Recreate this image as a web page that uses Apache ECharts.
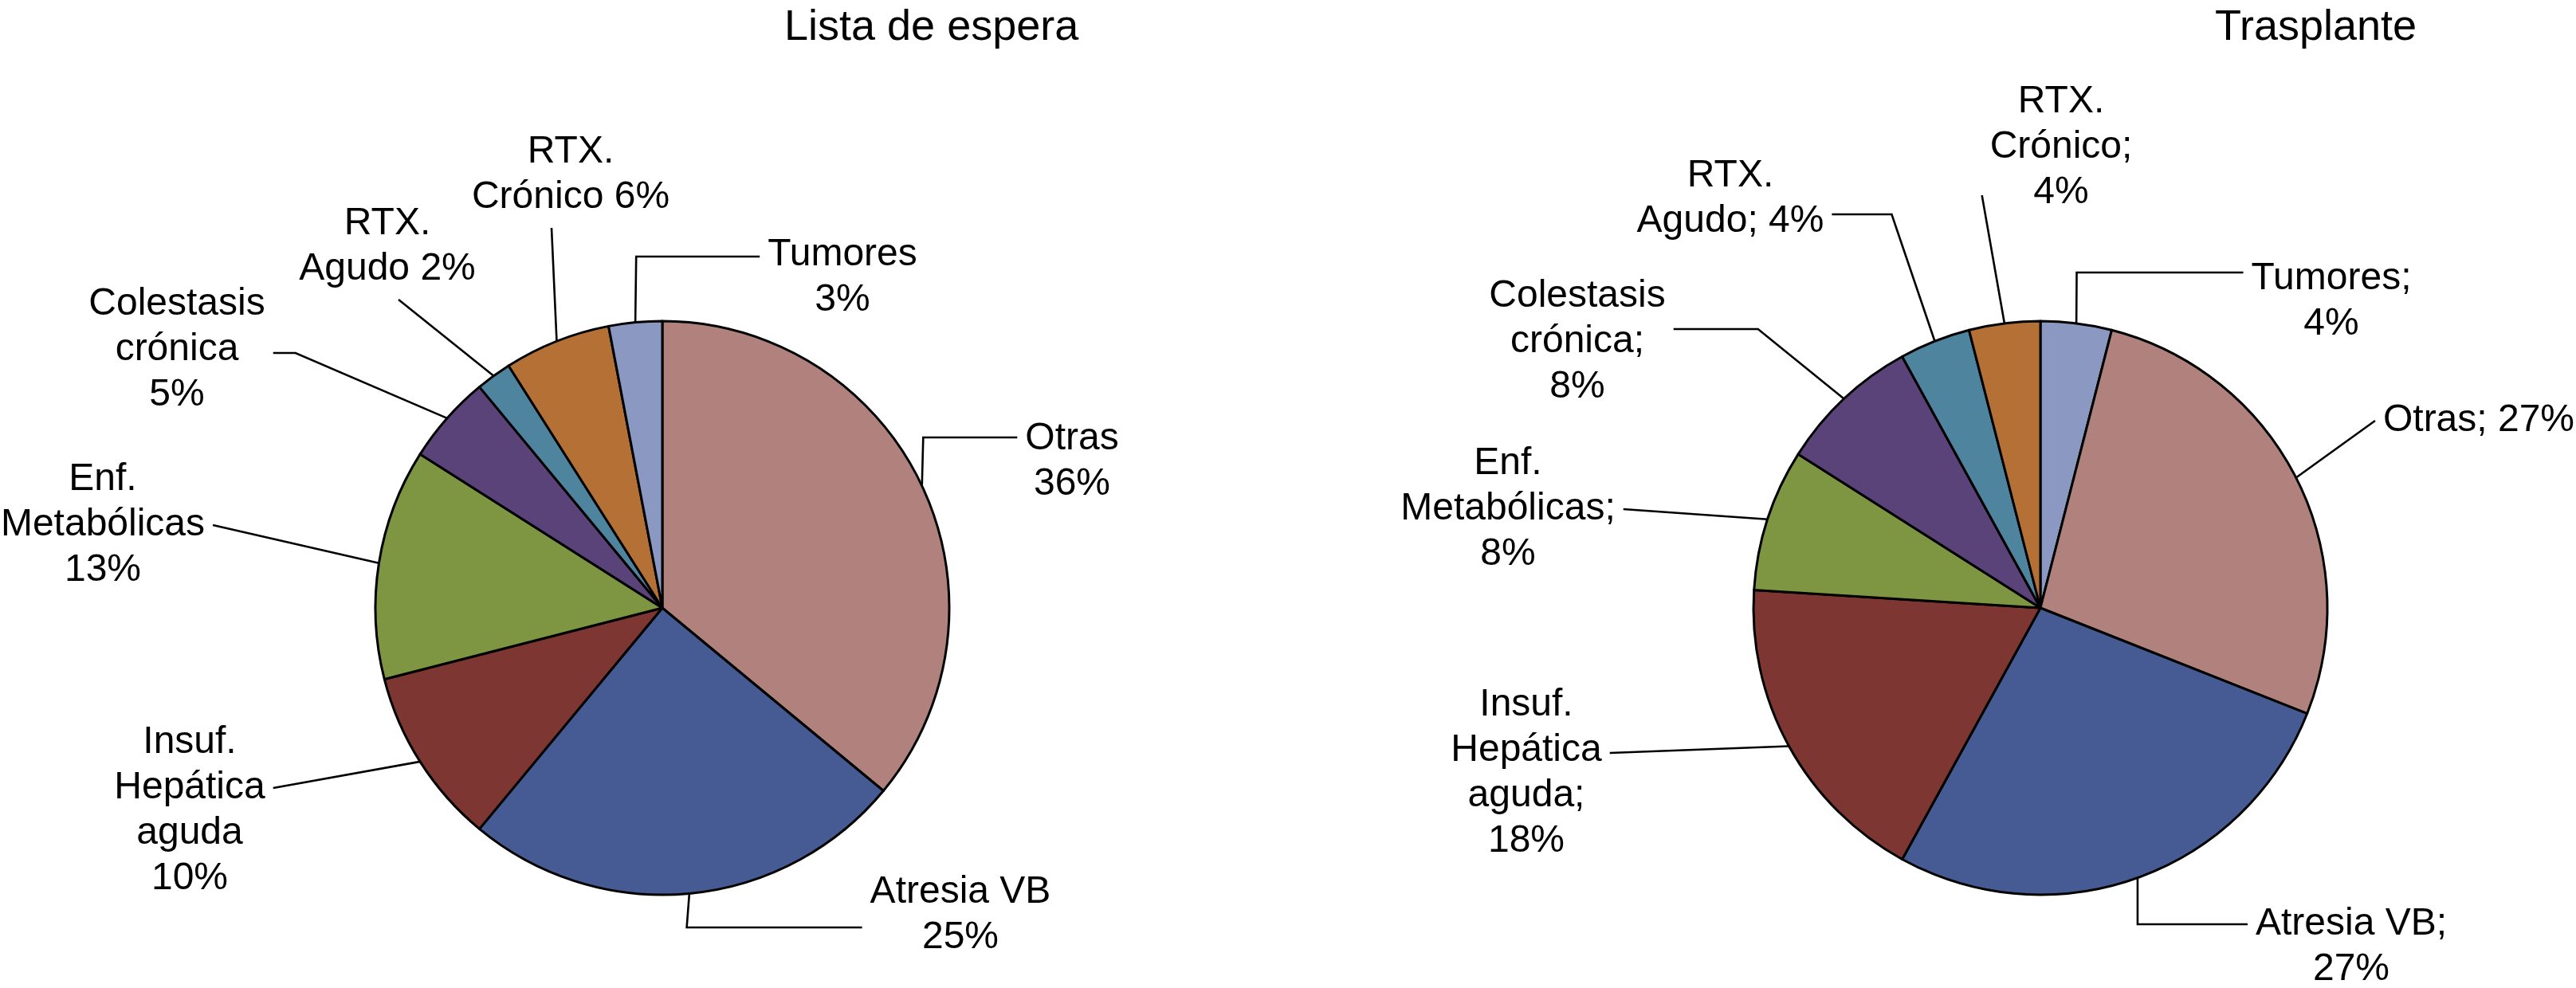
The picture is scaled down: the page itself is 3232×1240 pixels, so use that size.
<!DOCTYPE html>
<html>
<head>
<meta charset="utf-8">
<title>Lista de espera / Trasplante</title>
<script src="https://cdn.jsdelivr.net/npm/echarts@6/dist/echarts.min.js"></script>
<style>
  html, body { margin: 0; padding: 0; background: #fff; }
  #chart { width: 3232px; height: 1240px; }
</style>
</head>
<body>
<div id="chart"></div>
<script>
// categorias (con los saltos de linea de la etiqueta) y su color
const categories = ['Otras', 'Atresia VB', 'Insuf.\nHepática\naguda', 'Enf.\nMetabólicas',
  'Colestasis\ncrónica', 'RTX.\nAgudo', 'RTX.\nCrónico', 'Tumores'];
const categoryColors = ['#B1827D', '#465B93', '#7D3631', '#7E9641',
  '#5A4379', '#4F849E', '#B47035', '#8A98C2'];

// Lista de espera, sentido horario desde las 12
const esperaOrder = [0, 1, 2, 3, 4, 5, 6, 7];
const esperaValues = [36, 25, 10, 13, 5, 2, 6, 3];
const esperaSep = ['\n', '\n', '\n', '\n', '\n', ' ', ' ', '\n'];

// Trasplante, sentido horario desde las 12
const trasplanteOrder = [7, 0, 1, 2, 3, 4, 5, 6];
const trasplanteValues = [4, 27, 27, 18, 8, 8, 4, 4];
const trasplanteSep = [';\n', '; ', ';\n', ';\n', ';\n', ';\n', '; ', ';\n'];

const titles = ['Lista de espera', 'Trasplante'];

const FONT = "'Liberation Sans', Arial, Helvetica, sans-serif";
const R = 360;
const esperaCenter = [831, 763];
const trasplanteCenter = [2560, 763];

// donde va cada etiqueta: [x, y, lado de la linea, codo, desplazamiento]
const esperaSpots = [
  [1345, 579, 'left', 118, -30],
  [1205, 1148, 'left', 220, 16],
  [238, 1017, 'right', 0, -28],
  [129, 659, 'right', 0, 0],
  [222, 439, 'right', 28, 4],
  [486, 309, 'bottom', 0, 14],
  [716, 219, 'bottom', 0, -24],
  [1057, 348, 'left', 155, -26]
];
const trasplanteSpots = [
  [2925, 378, 'left', 209, -36],
  [3110, 528, 'left', 0, 0],
  [2950, 1188, 'left', 138, -28],
  [1915, 970, 'right', 0, -25],
  [1892, 639, 'right', 0, 0],
  [1979, 429, 'right', 106, -16],
  [2171, 249, 'right', 75, 20],
  [2586, 185, 'left', 0, 60]
];

// linea guia: punto medio del arco -> codo -> lado de la etiqueta
function leaderLayout(center, values, spots) {
  const total = values.reduce((a, b) => a + b, 0);
  return function (p) {
    let before = 0;
    for (let i = 0; i < p.dataIndex; i++) before += values[i];
    const mid = (before + values[p.dataIndex] / 2) / total * 2 * Math.PI;
    const tip = [center[0] + R * Math.sin(mid), center[1] - R * Math.cos(mid)];
    const [x, y, side, elbow, shift] = spots[p.dataIndex];
    const w = p.labelRect.width, h = p.labelRect.height, gap = 10;
    let a, d;
    if (side === 'left') { a = [x - w / 2 - gap, y + shift]; d = [-1, 0]; }
    else if (side === 'right') { a = [x + w / 2 + gap, y + shift]; d = [1, 0]; }
    else if (side === 'top') { a = [x + shift, y - h / 2 - gap]; d = [0, -1]; }
    else { a = [x + shift, y + h / 2 + gap]; d = [0, 1]; }
    const knee = [a[0] + d[0] * elbow, a[1] + d[1] * elbow];
    return {
      x: x, y: y, align: 'center', verticalAlign: 'middle',
      labelLinePoints: [tip, knee, a]
    };
  };
}

function pieSeries(center, order, values, sep, spots) {
  return {
    type: 'pie',
    center: center,
    radius: R,
    startAngle: 90,
    clockwise: true,
    avoidLabelOverlap: false,
    animation: false,
    silent: true,
    data: order.map((c, i) => ({
      name: categories[c],
      value: values[i],
      itemStyle: { color: categoryColors[c] }
    })),
    itemStyle: { borderColor: '#000', borderWidth: 3 },
    label: {
      show: true,
      position: 'outside',
      overflow: 'none',
      color: '#000',
      fontFamily: FONT,
      fontSize: 48,
      lineHeight: 57,
      formatter: (p) => p.name + sep[p.dataIndex] + p.value + '%'
    },
    labelLine: {
      show: true,
      length: 10,
      length2: 10,
      minTurnAngle: 0,
      lineStyle: { color: '#000', width: 2.6 }
    },
    labelLayout: leaderLayout(center, values, spots)
  };
}

const chart = echarts.init(document.getElementById('chart'), null, { renderer: 'canvas' });
chart.setOption({
  backgroundColor: '#fff',
  animation: false,
  title: [
    { text: titles[0], left: 984, top: 8, padding: 0,
      textStyle: { fontFamily: FONT, fontSize: 54, fontWeight: 'normal', color: '#000' } },
    { text: titles[1], left: 2779, top: 8, padding: 0,
      textStyle: { fontFamily: FONT, fontSize: 54, fontWeight: 'normal', color: '#000' } }
  ],
  series: [
    pieSeries(esperaCenter, esperaOrder, esperaValues, esperaSep, esperaSpots),
    pieSeries(trasplanteCenter, trasplanteOrder, trasplanteValues, trasplanteSep, trasplanteSpots)
  ]
});
</script>
</body>
</html>
